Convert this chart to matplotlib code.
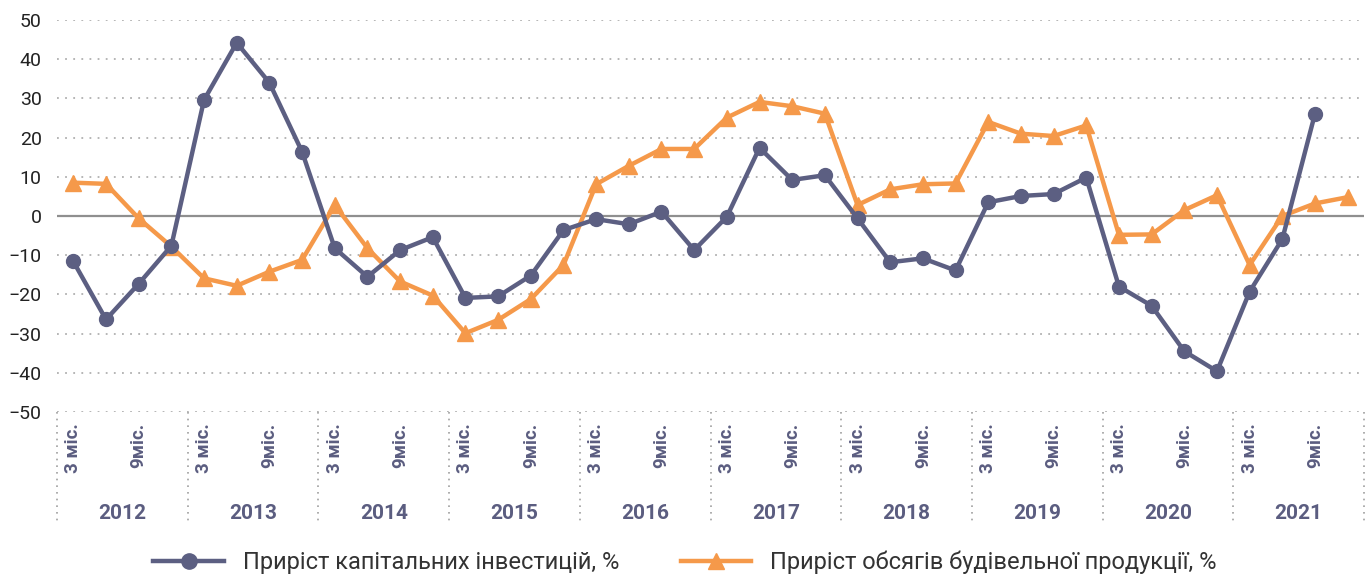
import numpy as np
import matplotlib
matplotlib.use("Agg")
import matplotlib.pyplot as plt

plt.rcParams['font.family'] = ['Roboto', 'DejaVu Sans']

years = ['2012', '2013', '2014', '2015', '2016', '2017', '2018', '2019', '2020', '2021']
quarter_labels = ['3 міс.', '', '9міс.', '']

# приріст капітальних інвестицій, % (2021 Q4 немає)
invest = [-11.6, -26.4, -17.3, -7.6,
          29.6, 44.2, 34.0, 16.4,
          -8.2, -15.5, -8.7, -5.4,
          -20.9, -20.5, -15.2, -3.6,
          -0.8, -2.1, 1.1, -8.7,
          -0.2, 17.4, 9.2, 10.4,
          -0.6, -11.8, -10.8, -13.9,
          3.5, 5.1, 5.6, 9.8,
          -18.0, -22.9, -34.5, -39.6,
          -19.3, -5.9, 26.1]

# приріст обсягів будівельної продукції, %
constr = [8.5, 8.2, -0.6, -7.8,
          -15.9, -17.8, -14.2, -11.2,
          2.8, -8.2, -16.7, -20.3,
          -29.9, -26.5, -21.2, -12.5,
          8.1, 12.8, 17.1, 17.1,
          25.1, 29.1, 28.0, 26.1,
          2.8, 6.8, 8.1, 8.3,
          24.0, 21.0, 20.4, 23.1,
          -4.8, -4.7, 1.5, 5.3,
          -12.5, 0.0, 3.2, 4.8]

label_invest = 'Приріст капітальних інвестицій, %'
label_constr = 'Приріст обсягів будівельної продукції, %'

blue = '#5c5f82'
orange = '#f5994a'
txt = '#5b5d80'

fig = plt.figure(figsize=(13.7, 5.81), dpi=100)
ax = fig.add_axes([57/1370, 1-412/581, 1307/1370, 392/581])

n = len(years) * 4
x = np.arange(n)

# grid
for v in range(-50, 51, 10):
    if v == 0:
        ax.axhline(0, color='#8f8f8f', lw=1.6, zorder=1)
    else:
        ax.axhline(v, color='#b0b0b0', lw=1.3, ls=(0, (1, 3.5)), zorder=1)

ax.plot(x[:len(invest)], invest, color=blue, lw=3.2, marker='o', ms=10,
        label=label_invest, zorder=3)
ax.plot(x, constr, color=orange, lw=3.2, marker='^', ms=11,
        label=label_constr, zorder=2)

ax.set_xlim(-0.5, n - 0.5)
ax.set_ylim(-50, 50)
ax.set_yticks(range(-50, 51, 10))
ax.tick_params(axis='y', length=0, pad=11, labelsize=14, labelcolor='#222222')
for s in ax.spines.values():
    s.set_visible(False)

# quarter labels
pos = [i for i in range(n) if quarter_labels[i % 4]]
labs = [quarter_labels[i % 4] for i in pos]
ax.set_xticks(pos)
ax.set_xticklabels(labs, rotation=90, fontsize=13.5, fontweight='bold', color=txt)
ax.tick_params(axis='x', length=0, pad=8)

# year separators and labels
trans = ax.get_xaxis_transform()
for k in range(len(years) + 1):
    ax.plot([k*4 - 0.5, k*4 - 0.5], [0, -0.277], transform=trans, clip_on=False,
            color='#a0a0a0', lw=1.2, ls=(0, (1, 3)))
for k, yr in enumerate(years):
    ax.text(k*4 + 1.5, -0.258, yr, transform=trans, ha='center', va='center',
            fontsize=15, fontweight='bold', color=txt)

fig.legend(loc='lower center', bbox_to_anchor=(0.5, -0.025), ncol=2, frameon=False,
           fontsize=17, handlelength=3.0, columnspacing=2.6, labelcolor='#333333',
           markerscale=1.1)

fig.savefig('out.png', dpi=100)
